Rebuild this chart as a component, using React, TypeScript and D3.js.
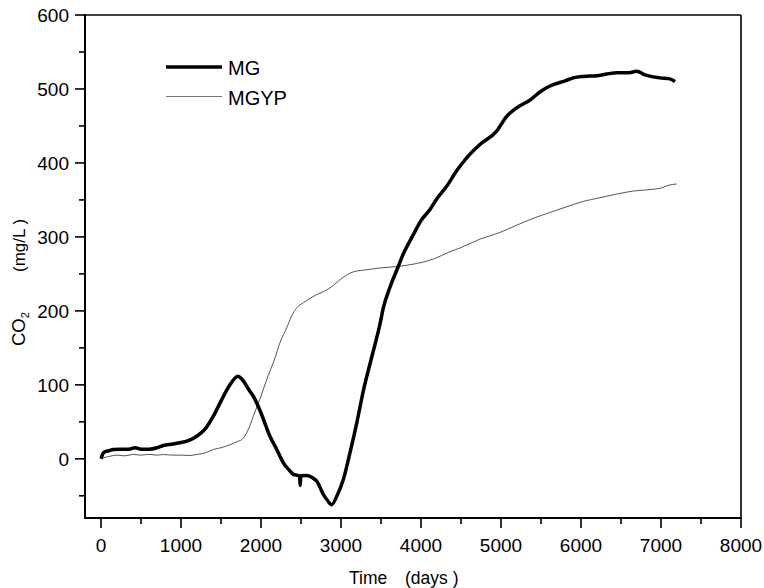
import React from "react";
import * as d3 from "d3";

const mgDays = [0, 30, 60, 100, 154, 250, 350, 425, 500, 600, 700, 779, 900, 1000, 1100, 1196, 1300, 1404, 1500, 1600, 1712, 1760, 1850, 1904, 2000, 2112, 2200, 2279, 2350, 2404, 2470, 2482, 2490, 2498, 2571, 2650, 2696, 2779, 2830, 2883, 2950, 3029, 3112, 3200, 3279, 3383, 3487, 3529, 3612, 3716, 3779, 3904, 4000, 4112, 4200, 4321, 4450, 4571, 4737, 4946, 5071, 5196, 5362, 5500, 5612, 5800, 5904, 6029, 6200, 6446, 6600, 6696, 6800, 6987, 7100, 7175];
const mgValues = [0, 8, 10, 11, 12.6, 13, 13, 15, 13, 13, 15, 18, 20, 22, 25, 30.6, 40, 57.6, 78, 98, 111.7, 108, 93, 84.6, 62, 30.6, 12, -5.4, -15, -21, -23, -24, -36, -23, -22.6, -26, -30, -48, -56, -62, -50, -28, 8, 50, 92, 137, 182, 204, 232, 260, 277, 303, 322, 337, 352, 368.5, 390, 407, 425, 443, 463, 474.5, 485, 497, 504, 511, 515, 517, 518, 522, 522, 524, 519, 515, 514, 510];

const mgypDays = [0, 50, 112, 200, 300, 400, 500, 600, 700, 779, 900, 1000, 1112, 1200, 1300, 1404, 1500, 1612, 1700, 1779, 1850, 1904, 2000, 2071, 2175, 2237, 2321, 2383, 2446, 2529, 2600, 2696, 2780, 2862, 2987, 3112, 3200, 3279, 3487, 3700, 3946, 4154, 4362, 4487, 4737, 4987, 5200, 5400, 5612, 5800, 6029, 6237, 6450, 6654, 6862, 7000, 7100, 7196];
const mgypValues = [0, 2, 3.5, 5, 4, 6, 5, 6, 5, 5.8, 5, 5, 4.5, 6, 8, 12.6, 15, 19, 23, 28, 42, 57.6, 85, 107, 136.5, 157, 177, 193, 204, 211, 216, 222, 226, 231, 242, 251, 254, 255, 258, 260, 264, 270, 280, 285, 297, 306, 316, 325, 333, 340, 348, 353, 358, 362, 364, 366, 370, 371.5];

const xTicks = [0, 1000, 2000, 3000, 4000, 5000, 6000, 7000, 8000];
const xMinorTicks = [500, 1500, 2500, 3500, 4500, 5500, 6500, 7500];
const yTicks = [0, 100, 200, 300, 400, 500, 600];
const yMinorTicks = [-50, 50, 150, 250, 350, 450, 550];

const seriesNames = ["MG", "MGYP"];

export default function App() {
  const left = 85, right = 741, top = 15, bottom = 518;
  const x = d3.scaleLinear().domain([-200, 8000]).range([left, right]);
  const y = d3.scaleLinear().domain([-80, 600]).range([bottom, top]);
  const font = "Arial, 'Liberation Sans', sans-serif";

  const mgData = mgDays.map((d, i) => [d, mgValues[i]] as [number, number]);
  const mgypData = mgypDays.map((d, i) => [d, mgypValues[i]] as [number, number]);
  const line = d3.line<[number, number]>().x(d => x(d[0])).y(d => y(d[1])).curve(d3.curveMonotoneX);

  return (
    <svg width={764} height={588} style={{ position: "absolute", left: 0, top: 0, background: "#fff" }} fontFamily={font}>
      <rect x={0} y={0} width={764} height={588} fill="#fff" />
      {/* frame */}
      <line x1={left} y1={top} x2={right} y2={top} stroke="#000" strokeWidth={1.6} />
      <line x1={right} y1={top} x2={right} y2={bottom} stroke="#000" strokeWidth={1.6} />
      <line x1={left} y1={top - 1} x2={left} y2={bottom + 1} stroke="#000" strokeWidth={2} />
      <line x1={left - 1} y1={bottom} x2={right + 1} y2={bottom} stroke="#000" strokeWidth={2} />
      {/* y ticks */}
      {yTicks.map(t => (
        <g key={"y" + t}>
          <line x1={left - 10} x2={left} y1={y(t)} y2={y(t)} stroke="#000" strokeWidth={1.6} />
          <text x={left - 16} y={y(t)} dy="0.36em" textAnchor="end" fontSize={19}>{t}</text>
        </g>
      ))}
      {yMinorTicks.map(t => (
        <line key={"ym" + t} x1={left - 6} x2={left} y1={y(t)} y2={y(t)} stroke="#000" strokeWidth={1.6} />
      ))}
      {/* x ticks */}
      {xTicks.map(t => (
        <g key={"x" + t}>
          <line x1={x(t)} x2={x(t)} y1={bottom} y2={bottom + 10} stroke="#000" strokeWidth={1.6} />
          <text x={x(t)} y={bottom + 34} textAnchor="middle" fontSize={19}>{t}</text>
        </g>
      ))}
      {xMinorTicks.map(t => (
        <line key={"xm" + t} x1={x(t)} x2={x(t)} y1={bottom} y2={bottom + 6} stroke="#000" strokeWidth={1.6} />
      ))}
      {/* axis titles */}
      <text x={349} y={584} fontSize={17.5}>Time</text>
      <text x={405} y={584} fontSize={17.5}>(days )</text>
      <text transform="translate(25, 346) rotate(-90)" fontSize={18.5}>
        CO<tspan dy={4} fontSize={11}>2</tspan>
      </text>
      <text transform="translate(25, 272) rotate(-90)" fontSize={17}>(mg/L )</text>
      {/* series */}
      <path d={line(mgypData) || ""} fill="none" stroke="#555" strokeWidth={1} />
      <path d={line(mgData) || ""} fill="none" stroke="#000" strokeWidth={3.5} strokeLinejoin="round" />
      {/* legend */}
      <line x1={166} x2={222} y1={67} y2={67} stroke="#000" strokeWidth={3.5} />
      <text x={228} y={75} fontSize={20}>{seriesNames[0]}</text>
      <line x1={166} x2={222} y1={96.5} y2={96.5} stroke="#777" strokeWidth={1} />
      <text x={228} y={105} fontSize={20}>{seriesNames[1]}</text>
    </svg>
  );
}
